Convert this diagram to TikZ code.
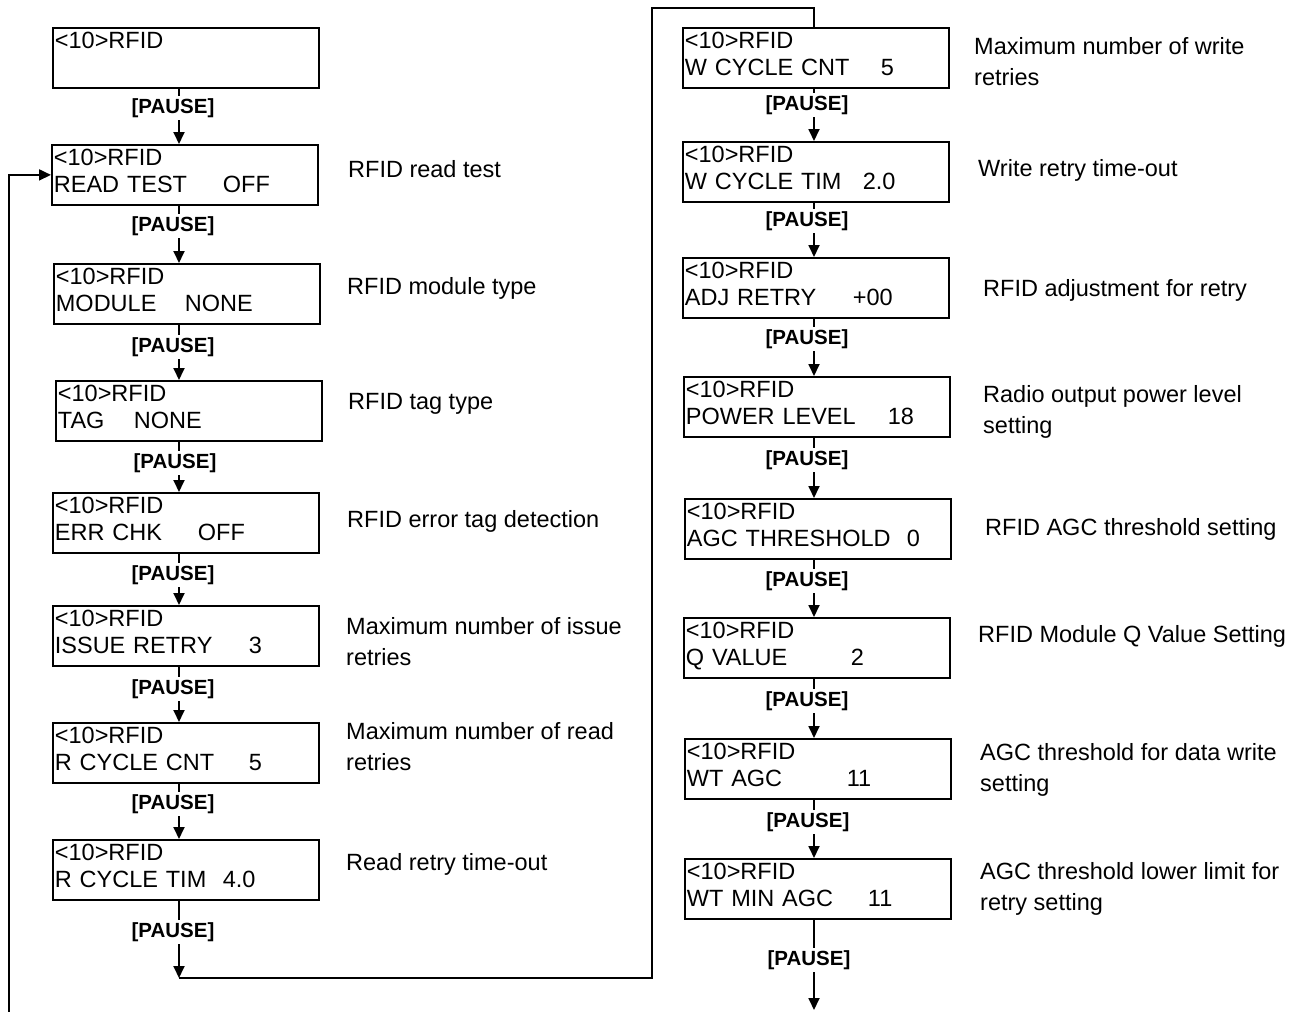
\documentclass[tikz,border=0pt]{standalone}
\usepackage{fontspec}
\setmainfont{Liberation Sans}
\usepackage{tikz}
\usetikzlibrary{arrows.meta}
\newcommand{\rfrow}[3]{\leavevmode\rlap{#1}\hspace*{#2pt}#3}
\tikzset{
  rfbox/.style={draw, line width=1.8pt, anchor=north west, minimum width=266pt, minimum height=60pt, text width=262pt, inner xsep=1pt, inner ysep=0pt, align=left, font=\fontsize{23.5}{27}\selectfont},
  rfnote/.style={anchor=north west, inner sep=0pt, align=left, font=\fontsize{23.5}{31}\selectfont},
  rfpause/.style={fill=white, inner xsep=1pt, inner ysep=2pt, font=\fontsize{20.5}{24}\selectfont\bfseries},
  rfarr/.style={-{Triangle[length=12pt,width=11pt]}, line width=1.8pt},
  rfline/.style={line width=1.8pt}
}
\begin{document}
\begin{tikzpicture}[x=1pt, y=-1pt]
  \useasboundingbox (0,0) rectangle (1307,1012);
  \coordinate (lcol) at (179,0);
  \coordinate (rcol) at (814,0);
  \node[rfbox] (b0) at (52,27) {<10>RFID\\\strut};
  \foreach \n/\x/\y/\lab/\off/\val in {1/51/144/READ TEST/169/OFF, 2/53/263/MODULE/129/NONE, 3/55/380/TAG/76/NONE, 4/52/492/ERR CHK/143/OFF, 5/52/605/ISSUE RETRY/194/3, 6/52/722/R CYCLE CNT/194/5, 7/52/839/R CYCLE TIM/168/4.0, 8/682/27/W CYCLE CNT/196/5, 9/682/141/W CYCLE TIM/178/2.0, 10/682/257/ADJ RETRY/168/+00, 11/683/376/POWER LEVEL/202/18, 12/684/498/AGC THRESHOLD/220/0, 13/683/617/Q VALUE/165/2, 14/684/738/WT AGC/160/11, 15/684/858/WT MIN AGC/181/11}
    \node[rfbox] (b\n) at (\x,\y) {<10>RFID\\\rfrow{\lab}{\off}{\val}\strut};
  \foreach \a/\b/\c/\px/\py in {0/1/lcol/173/108, 1/2/lcol/173/226, 2/3/lcol/173/347, 3/4/lcol/175/463, 4/5/lcol/173/575, 5/6/lcol/173/689, 6/7/lcol/173/804, 8/9/rcol/807/105, 9/10/rcol/807/221, 10/11/rcol/807/339, 11/12/rcol/807/460, 12/13/rcol/807/581, 13/14/rcol/807/701, 14/15/rcol/808/822} {
    \draw[rfarr] (b\a.south -| \c) -- (b\b.north -| \c);
    \node[rfpause] (p\a) at (\px,\py) {[PAUSE]};
  }
  % over to the second column
  \coordinate (lturn) at (179,978);
  \coordinate (rturn) at (652,8);
  \draw[rfarr] (b7.south -| lcol) -- (lturn);
  \node[rfpause] (p7) at (173,932) {[PAUSE]};
  \draw[rfline] (lturn) -| (rturn) -| (b8.north -| rcol);
  \coordinate (rend) at (814,1010);
  \draw[rfarr] (b15.south -| rcol) -- (rend);
  \node[rfpause] (p15) at (809,960) {[PAUSE]};
  % back to read test
  \coordinate (loopin) at (9,1012);
  \draw[rfarr] (loopin) |- (b1.west);
  \node[rfnote] (d1) at (348,160) {RFID read test};
  \node[rfnote] (d2) at (347,277) {RFID module type};
  \node[rfnote] (d3) at (348,393) {RFID tag type};
  \node[rfnote] (d4) at (347,510) {RFID error tag detection};
  \node[rfnote] (d5) at (346,617) {Maximum number of issue\\retries};
  \node[rfnote] (d6) at (346,722) {Maximum number of read\\retries};
  \node[rfnote] (d7) at (346,853) {Read retry time-out};
  \node[rfnote] (d8) at (974,37) {Maximum number of write\\retries};
  \node[rfnote] (d9) at (978,159) {Write retry time-out};
  \node[rfnote] (d10) at (983,279) {RFID adjustment for retry};
  \node[rfnote] (d11) at (983,385) {Radio output power level\\setting};
  \node[rfnote] (d12) at (985,518) {RFID AGC threshold setting};
  \node[rfnote] (d13) at (978,625) {RFID Module Q Value Setting};
  \node[rfnote] (d14) at (980,743) {AGC threshold for data write\\setting};
  \node[rfnote] (d15) at (980,862) {AGC threshold lower limit for\\retry setting};
\end{tikzpicture}
\end{document}
